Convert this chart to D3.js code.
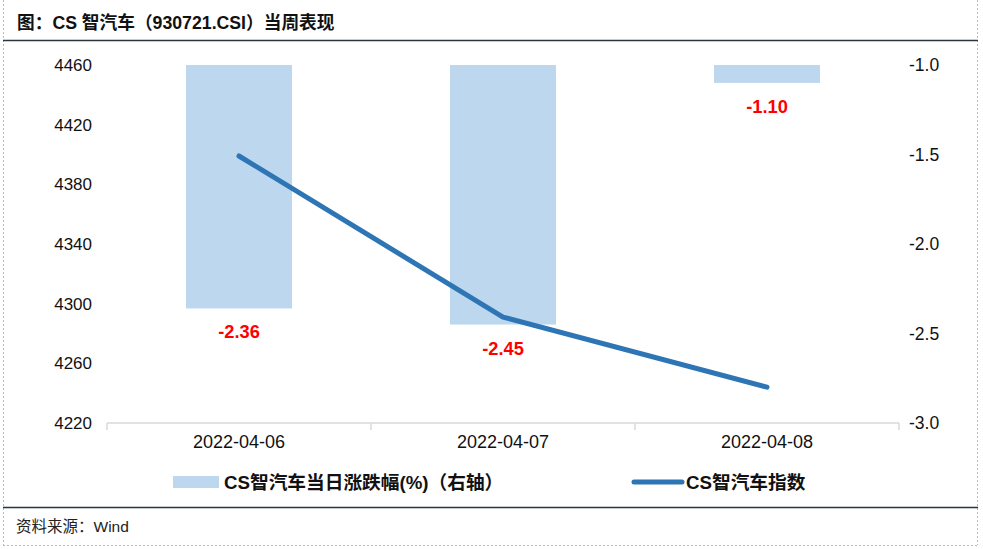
<!DOCTYPE html>
<html><head><meta charset="utf-8">
<script src="https://cdn.jsdelivr.net/npm/d3@7/dist/d3.min.js"></script>
<style>
body{margin:0;background:#fff;}
svg{display:block;font-family:"Liberation Sans",Arial,"Noto Sans CJK SC",sans-serif;}
</style></head><body>
<svg id="c" width="983" height="549"></svg>
<script>
const categories = ["2022-04-06","2022-04-07","2022-04-08"];
const changePct = [-2.36,-2.45,-1.10];
const indexValues = [4399,4291,4244];
const leftTicks = [4220,4260,4300,4340,4380,4420,4460];
const rightTicks = [-3.0,-2.5,-2.0,-1.5,-1.0];
const titleText = "图：CS 智汽车（930721.CSI）当周表现";
const sourceText = "资料来源：Wind";
const legendBar = "CS智汽车当日涨跌幅(%)（右轴）";
const legendLine = "CS智汽车指数";

const svg = d3.select("#c");
const fontCJK = '"Liberation Sans",Arial,"Noto Sans CJK SC",sans-serif';
const hy = s => s.replace(/\u2212/g,"-");

// frame
svg.append("line").attr("x1",3.5).attr("x2",3.5).attr("y1",0).attr("y2",545)
  .attr("stroke","#bbb").attr("stroke-dasharray","2,2");
svg.append("line").attr("x1",977.5).attr("x2",977.5).attr("y1",0).attr("y2",545)
  .attr("stroke","#bbb").attr("stroke-dasharray","2,2");
svg.append("line").attr("x1",3).attr("x2",978).attr("y1",545.5).attr("y2",545.5)
  .attr("stroke","#bbb").attr("stroke-dasharray","2,2");
svg.append("line").attr("x1",3).attr("x2",978).attr("y1",40.5).attr("y2",40.5)
  .attr("stroke","#2b3440").attr("stroke-width",1.5);
svg.append("line").attr("x1",3).attr("x2",978).attr("y1",507.5).attr("y2",507.5)
  .attr("stroke","#2b3440").attr("stroke-width",1.5);

svg.append("text").attr("x",17).attr("y",29).attr("font-size",17.7).attr("font-weight","bold")
  .attr("fill","#111").text(titleText);
svg.append("text").attr("x",16).attr("y",532).attr("font-size",15.5).attr("fill","#222").text(sourceText);

const xb = d3.scaleBand().domain(categories).range([107,899]);
const yL = d3.scaleLinear().domain([4220,4460]).range([423,65]);
const yR = d3.scaleLinear().domain([-3,-1]).range([423,65]);

// bars from -1 (top) down to value
svg.append("g").selectAll("rect").data(categories).join("rect")
  .attr("x",d=>xb(d)+xb.bandwidth()/2-53)
  .attr("width",106)
  .attr("y",yR(-1))
  .attr("height",(d,i)=>yR(changePct[i])-yR(-1))
  .attr("fill","#bdd7ee");

// bar labels
svg.append("g").selectAll("text").data(categories).join("text")
  .attr("x",d=>xb(d)+xb.bandwidth()/2)
  .attr("y",(d,i)=>yR(changePct[i])+30)
  .attr("text-anchor","middle").attr("font-size",18.3).attr("font-weight","bold")
  .attr("fill","#ff0000").text((d,i)=>changePct[i].toFixed(2));

// x axis
const gx = svg.append("g").attr("transform","translate(0,423)").call(d3.axisBottom(xb).tickSize(0).tickPadding(0));
gx.select(".domain").attr("stroke","#d9d9d9").attr("stroke-width",1.5).attr("d","M107,0H899");
gx.selectAll(".tick text").attr("font-size",18).attr("fill","#111").attr("dy","0").attr("y",25)
  .attr("font-family",fontCJK);
const bounds = categories.map(c=>xb(c)).concat([xb(categories[categories.length-1])+xb.bandwidth()]);
svg.append("g").selectAll("line").data(bounds).join("line")
  .attr("x1",d=>d).attr("x2",d=>d).attr("y1",423).attr("y2",430)
  .attr("stroke","#d9d9d9").attr("stroke-width",1.5);

// left axis
const gl = svg.append("g").attr("transform","translate(92,0)")
  .call(d3.axisLeft(yL).tickValues(leftTicks).tickSize(0).tickPadding(0).tickFormat(d3.format("d")));
gl.select(".domain").remove();
gl.selectAll(".tick text").attr("font-size",17).attr("fill","#111").attr("font-family",fontCJK);

// right axis
const gr = svg.append("g").attr("transform","translate(909,0)")
  .call(d3.axisRight(yR).tickValues(rightTicks).tickSize(0).tickPadding(0).tickFormat(d=>hy(d3.format(".1f")(d))));
gr.select(".domain").remove();
gr.selectAll(".tick text").attr("font-size",17.5).attr("fill","#111").attr("font-family",fontCJK);

// line
const line = d3.line().x((d,i)=>xb(categories[i])+xb.bandwidth()/2).y(d=>yL(d));
svg.append("path").datum(indexValues).attr("d",line).attr("fill","none")
  .attr("stroke","#2e75b6").attr("stroke-width",5).attr("stroke-linecap","round").attr("stroke-linejoin","round");

// legend
svg.append("rect").attr("x",173).attr("y",476).attr("width",46).attr("height",12).attr("fill","#bdd7ee");
svg.append("text").attr("x",224).attr("y",489).attr("font-size",18.7).attr("font-weight","bold")
  .attr("fill","#111").text(legendBar);
svg.append("line").attr("x1",634).attr("x2",682).attr("y1",482).attr("y2",482)
  .attr("stroke","#2e75b6").attr("stroke-width",5).attr("stroke-linecap","round");
svg.append("text").attr("x",686).attr("y",489).attr("font-size",18.7).attr("font-weight","bold")
  .attr("fill","#111").text(legendLine);
</script></body></html>
